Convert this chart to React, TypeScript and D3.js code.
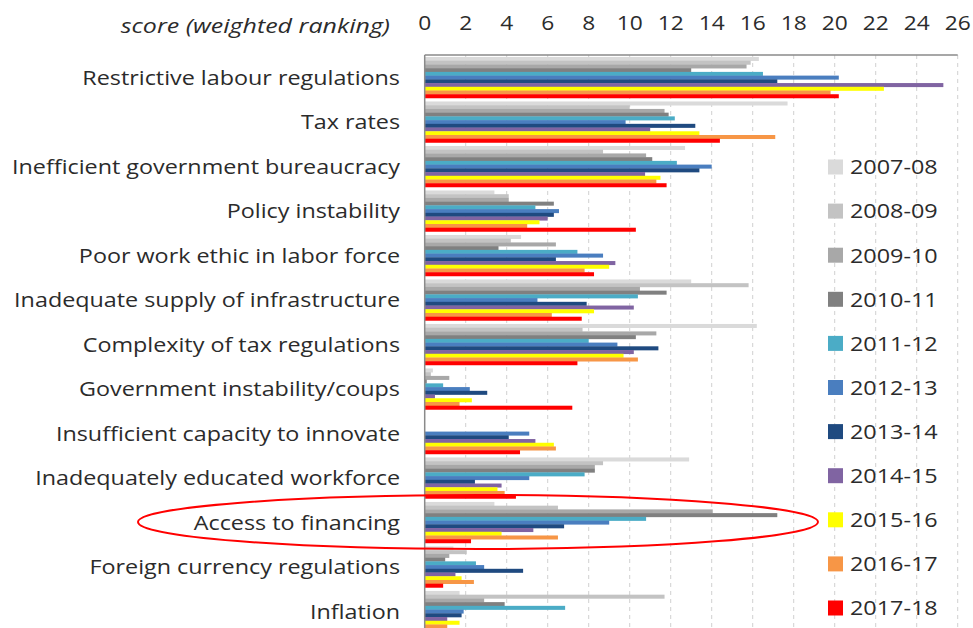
import React from "react";
import * as d3 from "d3";

const categories = [
  "Restrictive labour regulations",
  "Tax rates",
  "Inefficient government bureaucracy",
  "Policy instability",
  "Poor work ethic in labor force",
  "Inadequate supply of infrastructure",
  "Complexity of tax regulations",
  "Government instability/coups",
  "Insufficient capacity to innovate",
  "Inadequately educated workforce",
  "Access to financing",
  "Foreign currency regulations",
  "Inflation",
];

const years = ["2007-08", "2008-09", "2009-10", "2010-11", "2011-12", "2012-13", "2013-14", "2014-15", "2015-16", "2016-17", "2017-18"];

const v200708 = [16.3, 17.7, 12.7, 3.4, 4.7, 13.0, 16.2, 0.4, 0, 12.9, 3.4, 1.4, 1.7];
const v200809 = [15.9, 10.0, 8.7, 4.1, 4.2, 15.8, 7.7, 0.3, 0, 8.7, 6.5, 2.05, 11.7];
const v200910 = [15.7, 11.7, 10.8, 4.1, 6.4, 10.5, 11.3, 1.2, 0, 8.3, 14.05, 1.2, 2.9];
const v201011 = [13.0, 11.9, 11.1, 6.3, 3.6, 11.8, 10.3, 0.1, 0, 8.3, 17.2, 1.0, 3.9];
const v201112 = [16.5, 12.2, 12.3, 5.4, 7.45, 10.4, 8.0, 0.9, 0, 7.8, 10.8, 2.5, 6.85];
const v201213 = [20.2, 9.8, 14.0, 6.55, 8.7, 5.5, 9.4, 2.2, 5.1, 5.1, 9.0, 2.9, 1.9];
const v201314 = [17.2, 13.2, 13.4, 6.3, 6.4, 7.9, 11.4, 3.05, 4.1, 2.45, 6.8, 4.8, 1.8];
const v201415 = [25.3, 11.0, 10.75, 6.0, 9.3, 10.2, 10.2, 0.5, 5.4, 3.75, 5.3, 1.5, 1.1];
const v201516 = [22.4, 13.4, 11.5, 5.6, 9.0, 8.26, 9.7, 2.3, 6.3, 3.55, 3.75, 1.8, 1.7];
const v201617 = [19.8, 17.1, 11.3, 5.0, 7.8, 6.2, 10.4, 1.7, 6.4, 3.9, 6.5, 2.4, 1.1];
const v201718 = [20.2, 14.4, 11.8, 10.3, 8.26, 7.66, 7.45, 7.2, 4.65, 4.45, 2.26, 0.9, 0.5];

const seriesValues = [v200708, v200809, v200910, v201011, v201112, v201213, v201314, v201415, v201516, v201617, v201718];

const colors = ["#dadada", "#c3c3c3", "#a8a8a8", "#808080", "#4bacc6", "#4a7ebf", "#1f4a80", "#8064a2", "#ffff00", "#f79646", "#ff0000"];

const tickValues = [0, 2, 4, 6, 8, 10, 12, 14, 16, 18, 20, 22, 24, 26];

const FONT = "'Open Sans', 'Noto Sans', sans-serif";
const SX = 1.167;

export default function App() {
  const W = 973;
  const H = 628;
  const x = d3.scaleLinear().domain([0, 26]).range([424.7, 957.7]);
  const y = d3.scaleBand<string>().domain(categories).range([55.2, 633.7]).paddingInner(0.079).paddingOuter(0.04);
  const ys = d3.scaleBand<string>().domain(years).range([0, y.bandwidth()]).padding(0);
  const legendY = d3.scalePoint<string>().domain(years).range([167, 608]);

  return (
    <svg width={W} height={H} style={{ position: "absolute", left: 0, top: 0, background: "#fff" }}>
      <rect x={0} y={0} width={W} height={H} fill="#fff" />
      {tickValues.filter((t) => t > 0).map((t) => (
        <line key={"g" + t} x1={x(t)} x2={x(t)} y1={55} y2={H} stroke="#d0d0d0" strokeWidth={1} strokeDasharray="4,4" />
      ))}
      {categories.map((c, ci) => (
        <g key={c} transform={`translate(0,${y(c)})`}>
          {years.map((yr, si) => {
            const v = seriesValues[si][ci];
            if (!v) return null;
            return (
              <rect key={yr} x={x(0)} y={ys(yr)} width={x(v) - x(0)} height={ys.bandwidth() + 0.3} fill={colors[si]} />
            );
          })}
        </g>
      ))}
      <line x1={x(0)} x2={x(26)} y1={55} y2={55} stroke="#8a8a8a" strokeWidth={1.5} />
      <line x1={x(0)} x2={x(0)} y1={55} y2={H} stroke="#8a8a8a" strokeWidth={1.5} />
      {tickValues.map((t) => (
        <text key={"t" + t} transform={`translate(${x(t)},29.5) scale(${SX},1)`} textAnchor="middle" fontFamily={FONT} fontSize={19.5} fill="#2b2b2b">
          {t}
        </text>
      ))}
      <text transform={`translate(390,33) scale(1.22,1)`} textAnchor="end" fontFamily={FONT} fontSize={20.5} fontStyle="italic" fill="#2b2b2b">
        score (weighted ranking)
      </text>
      {categories.map((c) => (
        <text key={"l" + c} transform={`translate(400,${(y(c) as number) + y.bandwidth() / 2 + 7.2}) scale(${SX},1)`} textAnchor="end" fontFamily={FONT} fontSize={20} fill="#2b2b2b">
          {c}
        </text>
      ))}
      {years.map((yr, si) => (
        <g key={"lg" + yr} transform={`translate(828,${legendY(yr)})`}>
          <rect x={0} y={-7.5} width={15} height={15} fill={colors[si]} />
          <text transform={`translate(22,7.3) scale(1.17,1)`} fontFamily={FONT} fontSize={20} fill="#2b2b2b">
            {yr}
          </text>
        </g>
      ))}
      <ellipse cx={478} cy={522} rx={340} ry={27} fill="none" stroke="#ff0000" strokeWidth={2} />
    </svg>
  );
}
